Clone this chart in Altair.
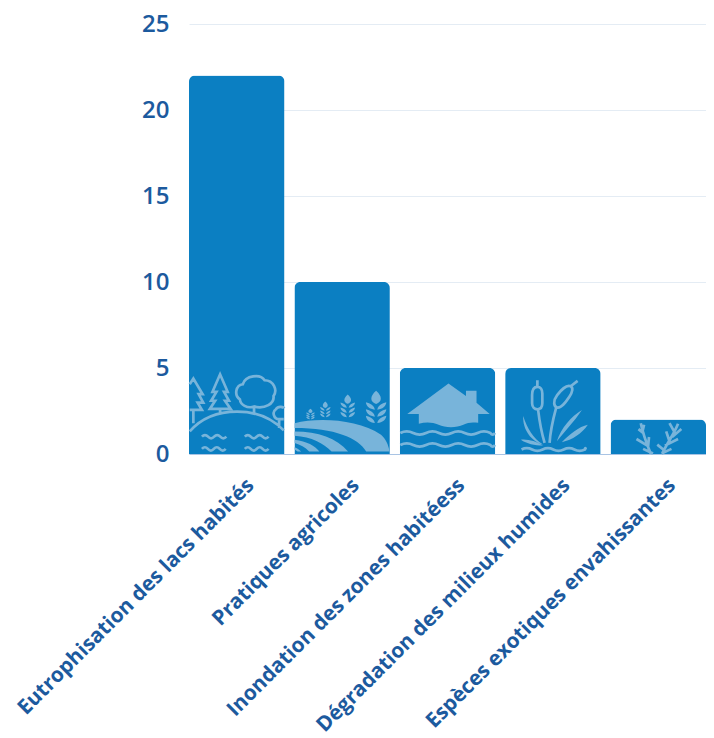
import re
import altair as alt
import pandas as pd

categories = ["Eutrophisation des lacs habités", "Pratiques agricoles", "Inondation des zones habitéess", "Dégradation des milieux humides", "Espèces exotiques envahissantes"]
values = [22, 10, 5, 5, 2]
ticks = [0, 5, 10, 15, 20, 25]

W, H = 517, 430
FONT = "Open Sans"
BLUE = "#0b7fc2"
TEXT = "#1c5a9e"
ICON = "#78b4da"


def norm(d, cx):
    """Icon outline drawn in a 3x box: centre cx, 141; one symbol unit is 144."""
    nums = iter(re.findall(r"-?\d+\.?\d*|[A-Za-z]", d))
    out, is_x = [], True
    for tok in nums:
        if tok.isalpha():
            out.append(tok)
            is_x = True
        else:
            v = float(tok)
            out.append(f"{(v - cx) / 144:.4f}" if is_x else f"{(v - 141) / 144:.4f}")
            is_x = not is_x
    return " ".join(out)


def wheat(cx, top, bottom, w):
    h = bottom - top
    head = f"M{cx} {top} C{cx + w * .32} {top + h * .16} {cx + w * .3} {top + h * .32} {cx} {top + h * .38} C{cx - w * .3} {top + h * .32} {cx - w * .32} {top + h * .16} {cx} {top} Z "
    s = head
    for k in (.36, .56, .74):
        y = top + h * k
        s += f"M{cx + w * .06} {y + h * .18} C{cx + w * .1} {y + h * .06} {cx + w * .28} {y} {cx + w * .5} {y - h * .03} C{cx + w * .48} {y + h * .08} {cx + w * .32} {y + h * .17} {cx + w * .06} {y + h * .18} Z "
        s += f"M{cx - w * .06} {y + h * .18} C{cx - w * .1} {y + h * .06} {cx - w * .28} {y} {cx - w * .5} {y - h * .03} C{cx - w * .48} {y + h * .08} {cx - w * .32} {y + h * .17} {cx - w * .06} {y + h * .18} Z "
    return s


def wave(x0, x1, y, amp=7, period=80):
    s, x, up = f"M{x0} {y} ", x0, True
    while x < x1:
        nx = min(x + period / 2, x1)
        s += f"Q{(x + nx) / 2} {y - amp if up else y + amp} {nx} {y} "
        x, up = nx, not up
    return s


# Light fills of the five icons
fill_paths = [
    norm("M210 282 L210.1 282 Z", 353.5),
    norm(
        "M528 190 C600 172 720 178 790 225 C805 238 812 255 816 276 L745 276 C720 235 650 205 528 205 Z "
        "M528 215 C600 215 655 235 690 276 L640 276 C615 250 580 232 528 228 Z "
        "M528 240 C565 245 590 258 603 276 L572 276 C560 262 545 255 528 250 Z "
        "M528 263 C535 266 542 270 548 276 L537 276 L528 270 Z "
        + wheat(576, 146, 181, 26) + wheat(621, 124, 176, 32) + wheat(689, 103, 178, 44) + wheat(775, 92, 198, 62),
        672,
    ),
    norm(
        "M30 162 L155 70 L208 108 L208 92 L240 92 L240 128 L280 162 L245 162 L245 189 "
        "C225 186 215 188 200 195 C180 205 145 205 125 195 C105 186 85 186 65 192 L65 162 Z",
        152,
    ),
    norm(
        "M558 150 C535 185 505 215 482 245 C495 205 525 170 558 150 Z "
        "M576 195 C550 200 520 225 497 248 C530 240 558 222 576 195 Z "
        "M380 168 C392 205 410 235 440 255 C405 245 378 210 380 168 Z "
        "M373 240 C395 238 420 245 440 258 C415 258 390 252 373 240 Z",
        470,
    ),
    norm("M644 282 L644.1 282 Z", 788),
]

# Light outlines of the five icons
stroke_paths = [
    norm(
        "M211 215 C250 170 300 155 355 155 C410 155 460 175 496 212 "
        "M222 190 L222 150 M211 150 L248 150 L235 128 L252 128 L238 102 L250 102 L222 55 L211 72 "
        "M303 162 L303 147 L272 147 L288 122 L276 122 L292 95 L280 95 L303 42 L326 95 L315 95 L330 122 L318 122 L335 147 L303 147 "
        "M406 165 L406 140 C385 146 365 135 363 118 C345 105 350 75 372 72 C380 45 425 40 438 60 C465 60 478 90 465 108 C468 130 440 148 406 140 "
        "M482 205 L482 178 C465 178 460 155 472 148 C480 136 496 142 497 145 M482 178 L496 178 "
        + wave(248, 322, 231, 10, 37) + wave(378, 450, 231, 10, 36) + wave(248, 320, 268, 10, 36) + wave(378, 450, 268, 10, 36),
        353.5,
    ),
    norm("M528 282 L528.1 282", 672),
    norm(wave(9, 296, 220, 10, 78) + wave(9, 296, 256, 10, 78), 152),
    norm(
        "M423 60 L423 80 M423 80 C412 80 407 90 407 105 L407 130 C407 142 415 148 423 148 C432 148 438 142 438 130 L438 100 C438 88 432 80 423 80 "
        "M425 148 C430 190 436 220 445 250 "
        "M545 62 L524 78 M524 78 C510 72 495 90 483 105 C470 122 472 140 483 143 C497 145 510 125 520 110 C530 95 532 82 524 78 "
        "M480 143 C470 180 462 215 460 250 "
        + wave(375, 570, 270, 8, 64),
        470,
    ),
    norm(
        "M735 190 C740 215 752 250 765 282 M728 208 L745 222 M745 195 L741 212 M722 238 L755 258 M760 232 L757 262 M742 268 L772 282 "
        "M848 192 C835 225 812 255 800 282 M822 190 L836 215 M858 208 L830 232 M812 215 L822 245 M848 238 L808 258 M785 255 L806 272 M828 268 L798 282",
        788,
    ),
]

df = pd.DataFrame({"cat": categories, "v": values})

x = alt.X("cat:N", sort=categories, title=None,
          scale=alt.Scale(paddingInner=0.094, paddingOuter=0.0),
          axis=alt.Axis(labelAngle=-45, labelAlign="right", labelBaseline="middle",
                        labelFont=FONT, labelFontSize=20.8, labelFontWeight=700, labelColor=TEXT,
                        labelLimit=0, labelPadding=28, labelOffset=14, ticks=False,
                        domain=True, domainColor="#a9c4e4", domainWidth=1, grid=False))
y = alt.Y("v:Q", title=None,
          scale=alt.Scale(domain=[0, 25], nice=False),
          axis=alt.Axis(values=ticks, labelFont=FONT, labelFontSize=24, labelFontWeight=600, labelColor=TEXT,
                        labelPadding=20, ticks=False, domain=False, grid=True, gridColor="#e4ecf4", gridWidth=1))

bars = alt.Chart(df).mark_bar(color=BLUE, cornerRadiusTopLeft=6, cornerRadiusTopRight=6).encode(x=x, y=y)

icon_x = alt.X("cat:N", sort=categories)
icon_y = alt.YDatum(2.733)
fills = alt.Chart(df).mark_point(filled=True, opacity=1, size=9025, color=ICON, strokeWidth=0).encode(
    x=icon_x, y=icon_y,
    shape=alt.Shape("cat:N", scale=alt.Scale(domain=categories, range=fill_paths), legend=None),
)
strokes = alt.Chart(df).mark_point(filled=False, opacity=1, size=9025, color=ICON, strokeWidth=2.7).encode(
    x=icon_x, y=icon_y,
    shape=alt.Shape("cat:N", scale=alt.Scale(domain=categories, range=stroke_paths), legend=None),
)

chart = alt.layer(bars, fills, strokes).resolve_scale(shape="independent").properties(
    width=W, height=H,
    background="white",
    autosize=alt.AutoSizeParams(type="none"),
    padding={"left": 181, "top": 16, "right": 0, "bottom": 282},
).configure_view(stroke=None)

chart.save("out.html", embed_options={"renderer": "svg", "actions": False})
